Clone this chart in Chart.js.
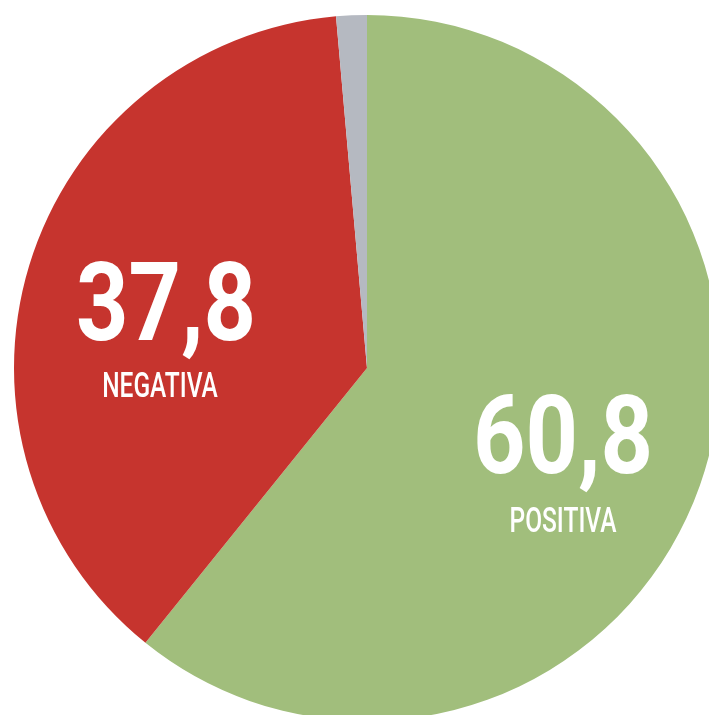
<!DOCTYPE html>
<html>
<head>
<meta charset="utf-8">
<script src="https://cdn.jsdelivr.net/npm/chart.js@4"></script>
<style>
  html, body { margin: 0; padding: 0; background: #fff; overflow: hidden; width: 709px; height: 715px; }
  #wrap { position: absolute; left: 14px; top: 15px; width: 706px; height: 706px; }
</style>
</head>
<body>
<div id="wrap"><canvas id="myChart-Opiniao" width="706" height="706"></canvas></div>
<script>
const categorias = ['POSITIVA', 'NEGATIVA', 'NS/NR'];
const valores = [60.8, 37.8, 1.4];
const cores = ['#a1be7c', '#c6342e', '#b5b9c1'];

// label placement relative to chart centre (px), only for the labelled slices
const rotulos = [
  { idx: 0, dx: 196, numY: 105, txtY: 164 },
  { idx: 1, dx: -201, numY: -28, txtY: 29, txtDx: -6 }
];

const rotuloPlugin = {
  id: 'rotuloPlugin',
  afterDatasetsDraw(chart) {
    const ctx = chart.ctx;
    const arc = chart.getDatasetMeta(0).data[0];
    const cx = arc.x, cy = arc.y;
    rotulos.forEach(r => {
      const num = valores[r.idx].toFixed(1).replace('.', ',');
      ctx.save();
      ctx.fillStyle = '#fff';
      ctx.textAlign = 'center';
      ctx.textBaseline = 'alphabetic';
      // big value, condensed
      ctx.save();
      ctx.translate(cx + r.dx, cy + r.numY);
      ctx.scale(0.84, 1);
      ctx.font = 'bold 109px Roboto';
      ctx.fillText(num, 0, 0);
      ctx.restore();
      // category name
      ctx.save();
      ctx.translate(cx + r.dx + (r.txtDx || 0), cy + r.txtY);
      ctx.scale(0.7, 1);
      ctx.font = '500 35px Roboto';
      ctx.fillText(categorias[r.idx], 0, 0);
      ctx.restore();
      ctx.restore();
    });
  }
};

const ctxOpiniao = document.getElementById('myChart-Opiniao');

new Chart(ctxOpiniao, {
  type: 'pie',
  data: {
    labels: categorias,
    datasets: [{
      data: valores,
      backgroundColor: cores,
      borderWidth: 0
    }]
  },
  options: {
    responsive: false,
    animation: false,
    layout: { padding: 0 },
    plugins: {
      legend: { display: false },
      tooltip: { enabled: false }
    }
  },
  plugins: [rotuloPlugin]
});
</script>
</body>
</html>
